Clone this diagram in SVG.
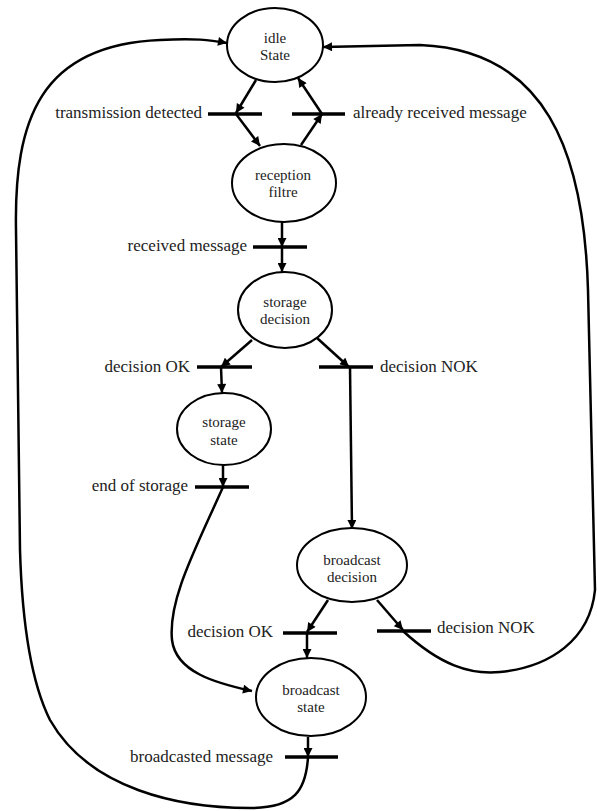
<svg xmlns="http://www.w3.org/2000/svg" width="597" height="811" viewBox="0 0 597 811">
<style>
.node ellipse{fill:#fff;stroke:#000;stroke-width:2}
.node text{font-size:15px;fill:#222;text-anchor:middle}
.lbl{font-size:17px;fill:#222}
.bar{stroke:#000;stroke-width:3.5;fill:none}
.c{stroke:#000;stroke-width:2.5;fill:none}
.a{marker-end:url(#ah)}
</style>
<defs>
<marker id="ah" markerUnits="userSpaceOnUse" markerWidth="10" markerHeight="9" viewBox="0 0 10 10" refX="10" refY="5" orient="auto">
<path d="M0,0 L10,5 L0,10 z" fill="#000"/>
</marker>
</defs>
<rect width="597" height="811" fill="#fff"/>
<g id="connectors">
<path class="c a" d="M256,80 L236,113"/>
<path class="c a" d="M236,114 L260,146"/>
<path class="c a" d="M301,145 L322,114"/>
<path class="c a" d="M322,114 L298,78"/>
<path class="c a" d="M282,222 L282,247"/>
<path class="c a" d="M282,247 L282,272"/>
<path class="c a" d="M252,340 L221,367"/>
<path class="c a" d="M221,367 L222,393"/>
<path class="c a" d="M317,338 L349,367"/>
<path class="c a" d="M350,367 L352,529"/>
<path class="c a" d="M223,465 L223,487"/>
<path class="c a" d="M223,487 C195,550 168,600 172,640 C176,672 215,683 252,691"/>
<path class="c a" d="M328,600 L307,632"/>
<path class="c a" d="M307,633 L307,658"/>
<path class="c a" d="M377,600 L403,630"/>
<path class="c a" d="M403,631 C440,665 470,675 500,672 C550,667 590,640 595,590 L588,290 C584,150 545,50 420,45 L323,47"/>
<path class="c a" d="M308,737 L308,757"/>
<path class="c a" d="M308,757 C306,790 295,808 250,808 C180,808 90,790 50,720 C30,680 22,620 20,550 L16,230 C14,120 40,45 160,40 C195,38 210,40 227,43"/>
</g>
<g id="bars">
<line class="bar" x1="208" y1="114" x2="262" y2="114"/>
<line class="bar" x1="292" y1="114" x2="345" y2="114"/>
<line class="bar" x1="253" y1="247" x2="307" y2="247"/>
<line class="bar" x1="197" y1="367" x2="252" y2="367"/>
<line class="bar" x1="319" y1="367" x2="373" y2="367"/>
<line class="bar" x1="195" y1="487" x2="249" y2="487"/>
<line class="bar" x1="283" y1="633" x2="337" y2="633"/>
<line class="bar" x1="377" y1="631" x2="431" y2="631"/>
<line class="bar" x1="285" y1="757" x2="338" y2="757"/>
</g>
<g id="labels" font-family="'Liberation Serif', 'DejaVu Serif', serif">
<text class="lbl" x="202" y="118" text-anchor="end">transmission detected</text>
<text class="lbl" x="353" y="118">already received message</text>
<text class="lbl" x="247" y="251" text-anchor="end">received message</text>
<text class="lbl" x="190" y="372" text-anchor="end">decision OK</text>
<text class="lbl" x="380" y="372">decision NOK</text>
<text class="lbl" x="188" y="491" text-anchor="end">end of storage</text>
<text class="lbl" x="273" y="637" text-anchor="end">decision OK</text>
<text class="lbl" x="437" y="633">decision NOK</text>
<text class="lbl" x="273" y="762" text-anchor="end">broadcasted message</text>
</g>
<g id="idle" class="node" font-family="'Liberation Serif', 'DejaVu Serif', serif">
<ellipse cx="275" cy="45" rx="48" ry="37"/>
<text x="275" y="43">idle</text>
<text x="275" y="60">State</text>
</g>
<g id="reception" class="node" font-family="'Liberation Serif', 'DejaVu Serif', serif">
<ellipse cx="284" cy="183" rx="52" ry="39"/>
<text x="283" y="180">reception</text>
<text x="283" y="197">filtre</text>
</g>
<g id="storage-decision" class="node" font-family="'Liberation Serif', 'DejaVu Serif', serif">
<ellipse cx="285" cy="310" rx="47" ry="38"/>
<text x="285" y="307">storage</text>
<text x="285" y="324">decision</text>
</g>
<g id="storage-state" class="node" font-family="'Liberation Serif', 'DejaVu Serif', serif">
<ellipse cx="224" cy="429" rx="47" ry="36"/>
<text x="224" y="427">storage</text>
<text x="224" y="445">state</text>
</g>
<g id="broadcast-decision" class="node" font-family="'Liberation Serif', 'DejaVu Serif', serif">
<ellipse cx="352" cy="565" rx="55" ry="37"/>
<text x="352" y="565">broadcast</text>
<text x="352" y="582">decision</text>
</g>
<g id="broadcast-state" class="node" font-family="'Liberation Serif', 'DejaVu Serif', serif">
<ellipse cx="311" cy="697" rx="55" ry="39"/>
<text x="311" y="695">broadcast</text>
<text x="311" y="712">state</text>
</g>
</svg>
